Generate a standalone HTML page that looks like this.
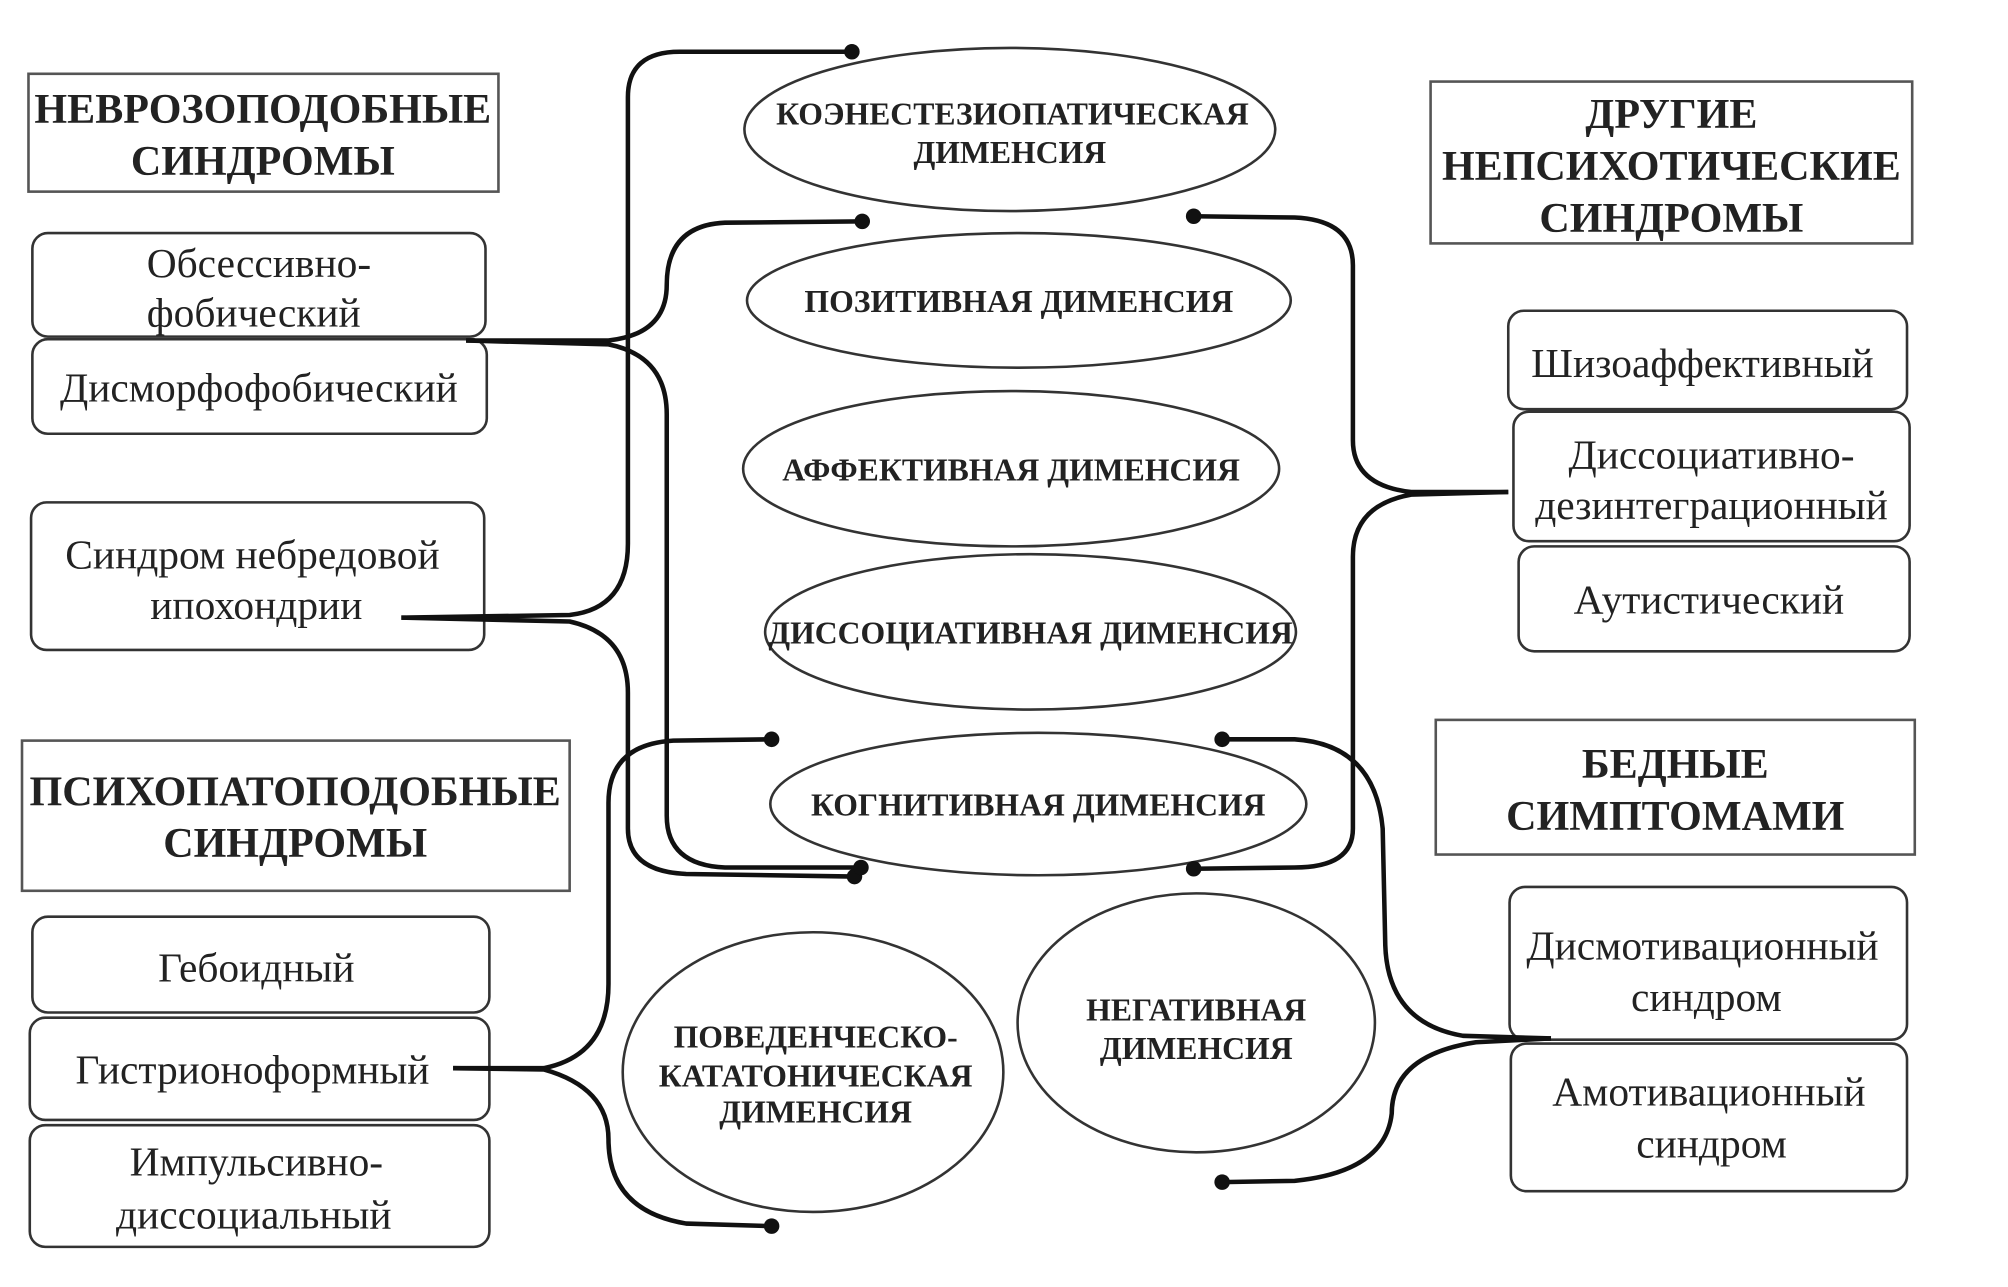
<!DOCTYPE html>
<html><head><meta charset="utf-8"><style>
html,body{margin:0;padding:0;background:#fff;}
svg{display:block;}
text{font-family:"Liberation Serif","DejaVu Serif",serif;fill:#222;}
.h{font-weight:bold;font-size:32.5px;}
.b{font-size:32px;}
.e{font-weight:bold;font-size:24.5px;}
.box{fill:#fff;stroke:#555;stroke-width:2;}
.rb{fill:#fff;stroke:#333;stroke-width:2;}
.el{fill:#fff;stroke:#333;stroke-width:2;}
.c{fill:none;stroke:#111;stroke-width:3.5;}
</style></head><body>
<svg width="2008" height="1287" viewBox="0 0 1551 994" preserveAspectRatio="none">
<rect class="box" x="22" y="57" width="363" height="91"/>
<text class="h" text-anchor="middle" x="203" y="95">НЕВРОЗОПОДОБНЫЕ</text>
<text class="h" text-anchor="middle" x="203" y="135">СИНДРОМЫ</text>
<rect class="box" x="1105" y="63" width="372" height="125"/>
<text class="h" text-anchor="middle" x="1291" y="99">ДРУГИЕ</text>
<text class="h" text-anchor="middle" x="1291" y="139">НЕПСИХОТИЧЕСКИЕ</text>
<text class="h" text-anchor="middle" x="1291" y="179">СИНДРОМЫ</text>
<rect class="box" x="17" y="572" width="423" height="116"/>
<text class="h" text-anchor="middle" x="228" y="622">ПСИХОПАТОПОДОБНЫЕ</text>
<text class="h" text-anchor="middle" x="228" y="662">СИНДРОМЫ</text>
<rect class="box" x="1109" y="556" width="370" height="104"/>
<text class="h" text-anchor="middle" x="1294" y="601">БЕДНЫЕ</text>
<text class="h" text-anchor="middle" x="1294" y="641">СИМПТОМАМИ</text>

<rect class="rb" x="25" y="180" width="350" height="80" rx="12"/>
<text class="b" text-anchor="middle" x="200" y="214">Обсессивно-</text>
<text class="b" text-anchor="middle" x="196" y="252">фобический</text>
<rect class="rb" x="25" y="262" width="351" height="73" rx="12"/>
<text class="b" text-anchor="middle" x="200" y="310">Дисморфофобический</text>
<rect class="rb" x="24" y="388" width="350" height="114" rx="12"/>
<text class="b" text-anchor="middle" x="195" y="439">Синдром небредовой</text>
<text class="b" text-anchor="middle" x="198" y="478">ипохондрии</text>
<rect class="rb" x="25" y="708" width="353" height="74" rx="12"/>
<text class="b" text-anchor="middle" x="198" y="758">Гебоидный</text>
<rect class="rb" x="23" y="786" width="355" height="79" rx="12"/>
<text class="b" text-anchor="middle" x="195" y="837">Гистрионоформный</text>
<rect class="rb" x="23" y="869" width="355" height="94" rx="12"/>
<text class="b" text-anchor="middle" x="198" y="908">Импульсивно-</text>
<text class="b" text-anchor="middle" x="196" y="949">диссоциальный</text>

<rect class="rb" x="1165" y="240" width="308" height="76" rx="12"/>
<text class="b" text-anchor="middle" x="1315" y="291">Шизоаффективный</text>
<rect class="rb" x="1169" y="318" width="306" height="100" rx="12"/>
<text class="b" text-anchor="middle" x="1322" y="362">Диссоциативно-</text>
<text class="b" text-anchor="middle" x="1322" y="401">дезинтеграционный</text>
<rect class="rb" x="1173" y="422" width="302" height="81" rx="12"/>
<text class="b" text-anchor="middle" x="1320" y="474">Аутистический</text>
<rect class="rb" x="1166" y="685" width="307" height="118" rx="12"/>
<text class="b" text-anchor="middle" x="1315" y="741">Дисмотивационный</text>
<text class="b" text-anchor="middle" x="1318" y="781">синдром</text>
<rect class="rb" x="1167" y="806" width="306" height="114" rx="12"/>
<text class="b" text-anchor="middle" x="1320" y="854">Амотивационный</text>
<text class="b" text-anchor="middle" x="1322" y="894">синдром</text>

<ellipse class="el" cx="780" cy="100" rx="205" ry="63"/>
<text class="e" text-anchor="middle" x="782" y="96">КОЭНЕСТЕЗИОПАТИЧЕСКАЯ</text>
<text class="e" text-anchor="middle" x="780" y="126">ДИМЕНСИЯ</text>
<ellipse class="el" cx="787" cy="232" rx="210" ry="52"/>
<text class="e" text-anchor="middle" x="787" y="241">ПОЗИТИВНАЯ ДИМЕНСИЯ</text>
<ellipse class="el" cx="781" cy="362" rx="207" ry="60"/>
<text class="e" text-anchor="middle" x="781" y="371">АФФЕКТИВНАЯ ДИМЕНСИЯ</text>
<ellipse class="el" cx="796" cy="488" rx="205" ry="60"/>
<text class="e" text-anchor="middle" x="796" y="497">ДИССОЦИАТИВНАЯ ДИМЕНСИЯ</text>
<ellipse class="el" cx="802" cy="621" rx="207" ry="55"/>
<text class="e" text-anchor="middle" x="802" y="630">КОГНИТИВНАЯ ДИМЕНСИЯ</text>
<ellipse class="el" cx="628" cy="828" rx="147" ry="108"/>
<text class="e" text-anchor="middle" x="630" y="809">ПОВЕДЕНЧЕСКО-</text>
<text class="e" text-anchor="middle" x="630" y="839">КАТАТОНИЧЕСКАЯ</text>
<text class="e" text-anchor="middle" x="630" y="867">ДИМЕНСИЯ</text>
<ellipse class="el" cx="924" cy="790" rx="138" ry="100"/>
<text class="e" text-anchor="middle" x="924" y="788">НЕГАТИВНАЯ</text>
<text class="e" text-anchor="middle" x="924" y="818">ДИМЕНСИЯ</text>

<path class="c" d="M310,477 L440,475 Q485,470 485,420 L485,75 Q485,40 525,40 L658,40"/>
<path class="c" d="M310,477 L440,480 Q485,490 485,535 L485,640 Q485,673 530,675 L660,677"/>
<path class="c" d="M360,263 L470,263 Q515,258 515,220 Q515,174 560,172 L666,171"/>
<path class="c" d="M360,263 L470,266 Q515,275 515,320 L515,630 Q515,668 560,670 L665,670"/>
<path class="c" d="M1165,380 L1090,380 Q1045,375 1045,340 L1045,205 Q1045,170 1000,168 L922,167"/>
<path class="c" d="M1165,380 L1090,382 Q1045,390 1045,430 L1045,640 Q1045,670 1000,670 L922,671"/>
<path class="c" d="M350,825 L420,825 Q470,815 470,760 L470,620 Q470,575 520,572 L596,571"/>
<path class="c" d="M350,825 L420,826 Q470,840 470,880 Q470,935 530,945 L596,947"/>
<path class="c" d="M1198,802 L1130,800 Q1072,790 1070,730 L1068,640 Q1062,575 1000,571 L944,571"/>
<path class="c" d="M1198,802 L1140,805 Q1075,815 1075,860 Q1070,905 1000,912 L944,913"/>
<g fill="#111">
<circle cx="658" cy="40" r="6"/><circle cx="660" cy="677" r="6"/>
<circle cx="666" cy="171" r="6"/><circle cx="665" cy="670" r="6"/>
<circle cx="922" cy="167" r="6"/><circle cx="922" cy="671" r="6"/>
<circle cx="596" cy="571" r="6"/><circle cx="596" cy="947" r="6"/>
<circle cx="944" cy="571" r="6"/><circle cx="944" cy="913" r="6"/>
</g>
</svg>
</body></html>
